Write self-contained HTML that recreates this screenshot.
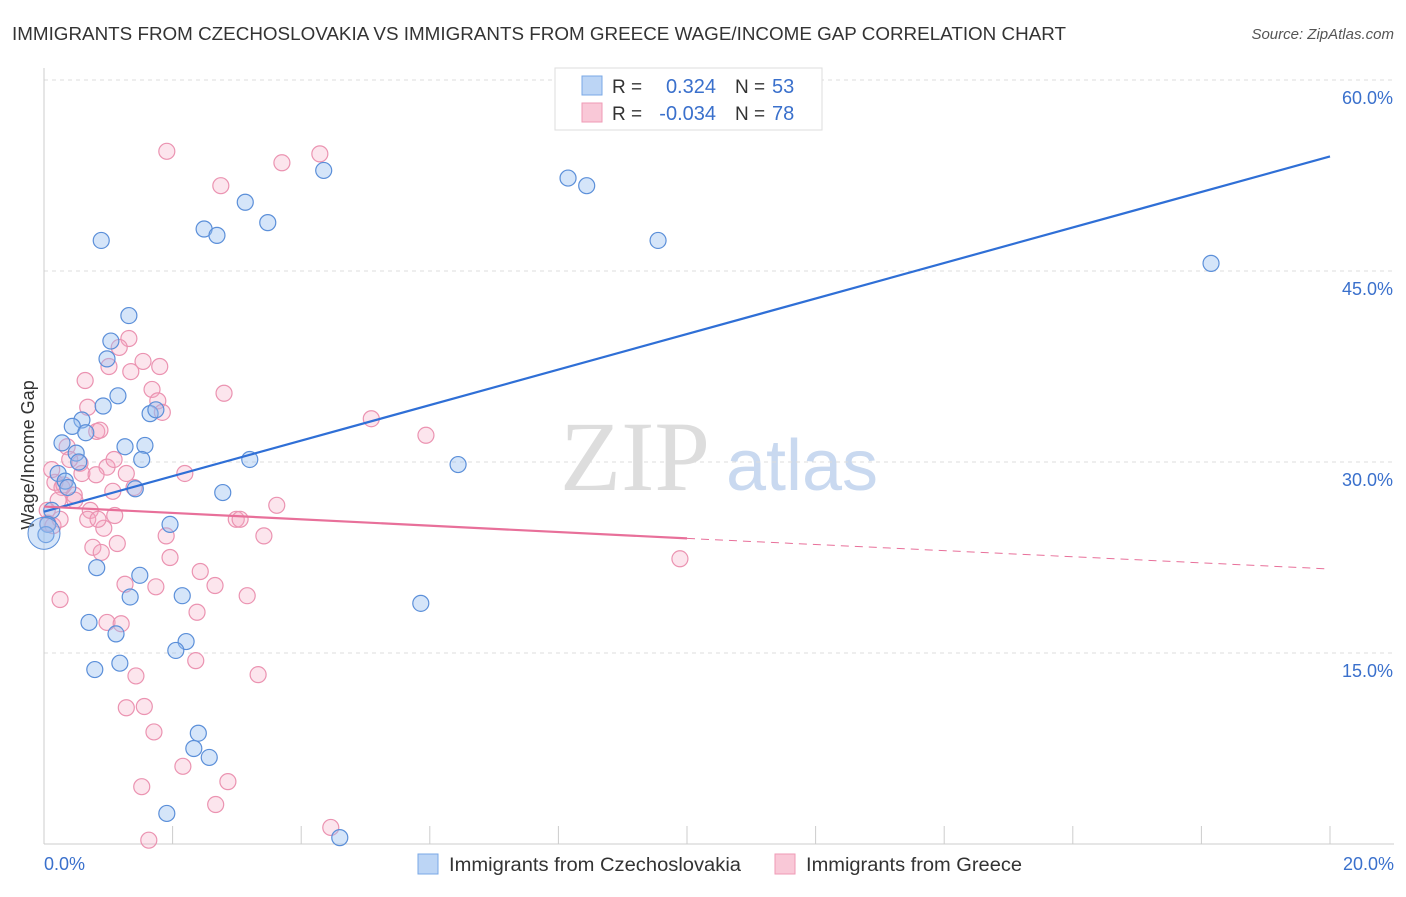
<!DOCTYPE html>
<html><head><meta charset="utf-8"><style>
body{margin:0;background:#fff;font-family:"Liberation Sans",sans-serif;}
svg text{font-family:"Liberation Sans",sans-serif;}
</style></head><body>
<svg id="chart" width="1406" height="892" xmlns="http://www.w3.org/2000/svg">
<text x="12" y="40" font-size="18" fill="#333" textLength="1054" lengthAdjust="spacingAndGlyphs">IMMIGRANTS FROM CZECHOSLOVAKIA VS IMMIGRANTS FROM GREECE WAGE/INCOME GAP CORRELATION CHART</text>
<text x="1394" y="39" font-size="15" fill="#555" font-style="italic" text-anchor="end">Source: ZipAtlas.com</text>
<text x="34" y="455" font-size="18" fill="#333" text-anchor="middle" transform="rotate(-90 34 455)">Wage/Income Gap</text>
<g>
<text x="635" y="490" font-size="100" fill="#ddd" text-anchor="middle" style="font-family:'Liberation Serif',serif">ZIP</text>
<text x="802" y="490" font-size="72" fill="#c9d9f0" text-anchor="middle">atlas</text>
</g>
<g id="grid"></g><g id="axes"></g><g id="marks"></g>
<g>
<rect x="555" y="68" width="267" height="62" fill="#fff" stroke="#ddd"/>
<rect x="582" y="76" width="20" height="19" fill="#bcd5f5" stroke="#7aa8e6"/>
<rect x="582" y="103" width="20" height="19" fill="#f9c8d7" stroke="#ef9ab5"/>
<text x="612" y="93" font-size="19" fill="#333">R = </text><text x="716" y="93" font-size="20" fill="#3a70cc" text-anchor="end">0.324</text>
<text x="735" y="93" font-size="19" fill="#333">N = </text><text x="772" y="93" font-size="20" fill="#3a70cc">53</text>
<text x="612" y="120" font-size="19" fill="#333">R = </text><text x="716" y="120" font-size="20" fill="#3a70cc" text-anchor="end">-0.034</text>
<text x="735" y="120" font-size="19" fill="#333">N = </text><text x="772" y="120" font-size="20" fill="#3a70cc">78</text>
</g>
<g>
<rect x="418" y="854" width="20" height="20" fill="#bcd5f5" stroke="#7aa8e6"/>
<text x="449" y="871" font-size="19" fill="#333" textLength="292" lengthAdjust="spacingAndGlyphs">Immigrants from Czechoslovakia</text>
<rect x="775" y="854" width="20" height="20" fill="#f9c8d7" stroke="#ef9ab5"/>
<text x="806" y="871" font-size="19" fill="#333" textLength="216" lengthAdjust="spacingAndGlyphs">Immigrants from Greece</text>
</g>
</svg>
<script>
const yTicks=[15,30,45,60];
const yTickLabels=["15.0%","30.0%","45.0%","60.0%"];
const xTickLabels=["0.0%","20.0%"];
const blueX=[0.89,2.49,2.69,3.13,3.48,4.35,8.15,8.44,9.55,18.15,1.32,1.04,0.98,1.15,0.92,1.65,1.74,0.59,0.44,0.28,0.65,1.26,1.57,1.52,0.50,0.54,0.22,0.33,0.37,1.42,2.78,3.20,6.44,0.12,0.06,0.03,1.96,0.82,1.49,1.34,2.15,5.86,0.70,1.12,2.21,2.05,1.18,0.79,2.40,2.33,2.57,1.91,4.60];
const blueY=[47.4,48.3,47.8,50.4,48.8,52.9,52.3,51.7,47.4,45.6,41.5,39.5,38.1,35.2,34.4,33.8,34.1,33.3,32.8,31.5,32.3,31.2,31.3,30.2,30.7,30.0,29.1,28.5,28.0,27.9,27.6,30.2,29.8,26.2,25.1,24.3,25.1,21.7,21.1,19.4,19.5,18.9,17.4,16.5,15.9,15.2,14.2,13.7,8.7,7.5,6.8,2.4,0.5];
const pinkX=[1.91,3.70,4.29,2.75,1.32,1.17,1.01,1.35,1.54,1.80,0.64,1.68,2.80,1.77,1.84,0.68,5.09,5.94,0.82,0.87,0.36,0.56,0.98,1.09,1.28,2.19,0.59,0.81,0.17,0.28,0.47,1.07,1.40,3.62,2.99,0.72,0.93,0.06,0.14,1.90,3.42,1.14,0.76,0.89,1.96,9.89,2.43,1.26,1.74,2.66,3.16,0.25,2.38,0.98,1.20,2.36,1.43,3.33,1.28,1.56,1.71,2.16,2.86,1.52,2.67,4.46,1.63,0.31,0.12,0.48,0.22,0.40,0.68,0.05,3.05,1.10,0.84,0.25];
const pinkY=[54.4,53.5,54.2,51.7,39.7,39.0,37.5,37.1,37.9,37.5,36.4,35.7,35.4,34.8,33.9,34.3,33.4,32.1,32.4,32.5,31.2,29.9,29.6,30.2,29.1,29.1,29.1,29.0,28.4,28.0,27.4,27.7,28.0,26.6,25.5,26.2,24.8,25.2,25.0,24.2,24.2,23.6,23.3,22.9,22.5,22.4,21.4,20.4,20.2,20.3,19.5,19.2,18.2,17.4,17.3,14.4,13.2,13.3,10.7,10.8,8.8,6.1,4.9,4.5,3.1,1.3,0.3,28.2,29.4,27.0,27.0,30.2,25.5,26.2,25.5,25.8,25.5,25.5];
const blueTrend=[26.1,54.0];
const pinkTrend=[26.5,24.0,21.6];
const NS="http://www.w3.org/2000/svg";
const X=v=>44+v*64.3, Y=v=>844-v*12.733;
function mk(tag,attrs,parent){const e=document.createElementNS(NS,tag);for(const k in attrs)e.setAttribute(k,attrs[k]);parent.appendChild(e);return e;}
const grid=document.getElementById('grid'),axes=document.getElementById('axes'),marks=document.getElementById('marks');
yTicks.forEach((t,i)=>{
 const l=mk('line',{x1:44,x2:1394,y1:Y(t),y2:Y(t),stroke:'#ddd','stroke-dasharray':'4,4'},grid);
 
 
 const tx=mk('text',{x:1393,y:Y(t)+24,'font-size':18,fill:'#3a70cc','text-anchor':'end'},axes);
 tx.textContent=yTickLabels[i];
 
 
});
const ax=mk('line',{x1:44,x2:44,y1:68,y2:844,stroke:'#ccc'},axes);


const bx=mk('line',{x1:44,x2:1394,y1:844,y2:844,stroke:'#ccc'},axes);


for(let i=0;i<=10;i++){const t=mk('line',{x1:X(i*2),x2:X(i*2),y1:826,y2:844,stroke:'#ccc'},axes);
 
 }
[[0,'start',44],[20,'end',1394]].forEach((a,i)=>{const t=mk('text',{x:a[2],y:870,'font-size':18,fill:'#3a70cc','text-anchor':a[1]},axes);t.textContent=xTickLabels[i];
 
 });
pinkX.forEach((x,i)=>{const c=mk('circle',{cx:X(x),cy:Y(pinkY[i]),r:8,fill:'rgba(246,168,195,0.3)',stroke:'#eb93b1','stroke-width':1.2},marks);
 
 });
blueX.forEach((x,i)=>{const c=mk('circle',{cx:X(x),cy:Y(blueY[i]),r:8,fill:'rgba(150,190,240,0.4)',stroke:'#5b8fd9','stroke-width':1.2},marks);
 
 });
const big=mk('circle',{cx:X(0),cy:Y(24.4),r:16,fill:'rgba(150,190,240,0.4)',stroke:'#5b8fd9'},marks);


const bl=mk('line',{x1:X(0),y1:Y(blueTrend[0]),x2:X(20),y2:Y(blueTrend[1]),stroke:'#2f6fd6','stroke-width':2.2},marks);


const pl=mk('line',{x1:X(0),y1:Y(pinkTrend[0]),x2:X(10),y2:Y(pinkTrend[1]),stroke:'#e8709a','stroke-width':2.2},marks);


const pd=mk('line',{x1:X(10),y1:Y(pinkTrend[1]),x2:X(20),y2:Y(pinkTrend[2]),stroke:'#e8709a','stroke-width':1,'stroke-dasharray':'8,6'},marks);


</script>
</body></html>
